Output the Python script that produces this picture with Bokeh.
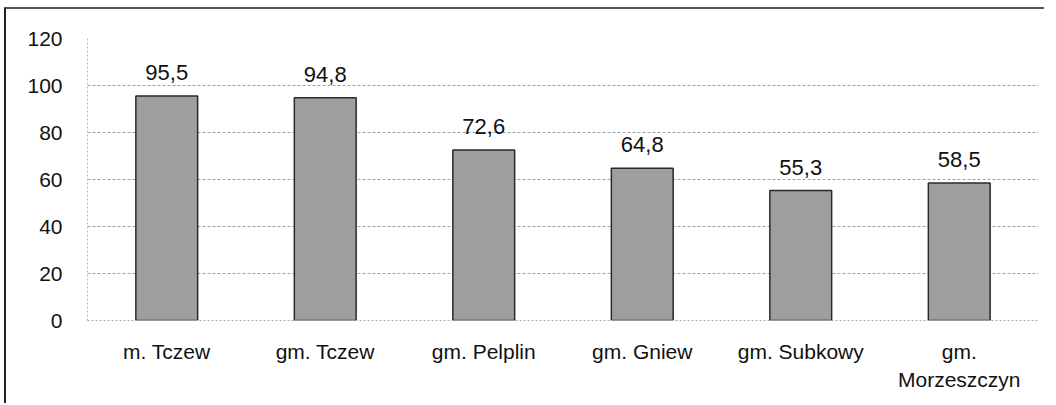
from bokeh.plotting import figure
from bokeh.models import ColumnDataSource, LabelSet, FixedTicker
from bokeh.core.properties import value
from bokeh.embed import file_html
from bokeh.resources import INLINE

categories = ["m. Tczew", "gm. Tczew", "gm. Pelplin", "gm. Gniew", "gm. Subkowy", "gm.\nMorzeszczyn"]
values = [95.5, 94.8, 72.6, 64.8, 55.3, 58.5]
value_labels = ["95,5", "94,8", "72,6", "64,8", "55,3", "58,5"]
y_ticks = [0, 20, 40, 60, 80, 100, 120]

xpos = [i + 0.5 for i in range(len(categories))]
source = ColumnDataSource(dict(x=xpos, val=values, lab=value_labels))

p = figure(x_range=(0, len(categories)), y_range=(0, 120), width=1040, height=396,
           output_backend="svg", toolbar_location=None,
           min_border_left=81, min_border_right=8, min_border_top=29, min_border_bottom=85)
p.styles = {"border-left": "2px solid #222", "border-top": "2px solid #555",
            "margin-left": "4px", "margin-top": "7px"}

p.vbar(x="x", top="val", width=0.39, source=source,
       fill_color="#9e9e9e", line_color="#2a2a2a", line_width=1.5)

labels = LabelSet(x="x", y="val", text="lab", source=source, y_offset=16,
                  text_align="center", text_baseline="alphabetic",
                  text_font=value("Liberation Sans"), text_font_size="22px", text_color="#111")
p.add_layout(labels)

p.outline_line_color = None
p.xgrid.grid_line_color = None
p.ygrid.grid_line_color = "#a0a0a0"
p.ygrid.grid_line_dash = "3 2"
p.ygrid.grid_line_width = 1

p.yaxis.ticker = y_ticks
p.yaxis.axis_line_color = "#bbbbbb"
p.yaxis.axis_line_dash = "2 2"
p.yaxis.major_tick_line_color = None
p.yaxis.minor_tick_line_color = None
p.yaxis.major_label_standoff = 19
p.yaxis.major_label_text_font = "Liberation Sans"
p.yaxis.major_label_text_font_size = "21px"
p.yaxis.major_label_text_color = "#111"

xa = p.xaxis[0]
xa.ticker = FixedTicker(ticks=xpos)
xa.axis_line_color = "#aaaaaa"
xa.axis_line_dash = "2 2"
xa.major_tick_line_color = None
xa.minor_tick_line_color = None
xa.major_tick_out = 0
xa.major_label_standoff = 19
xa.major_label_text_font = "Liberation Sans"
xa.major_label_text_font_size = "21px"
xa.major_label_text_color = "#111"
xa.major_label_text_line_height = 1.25
xa.major_label_overrides = {x: c for x, c in zip(xpos, categories)}

open("out.html", "w").write(file_html(p, INLINE))
